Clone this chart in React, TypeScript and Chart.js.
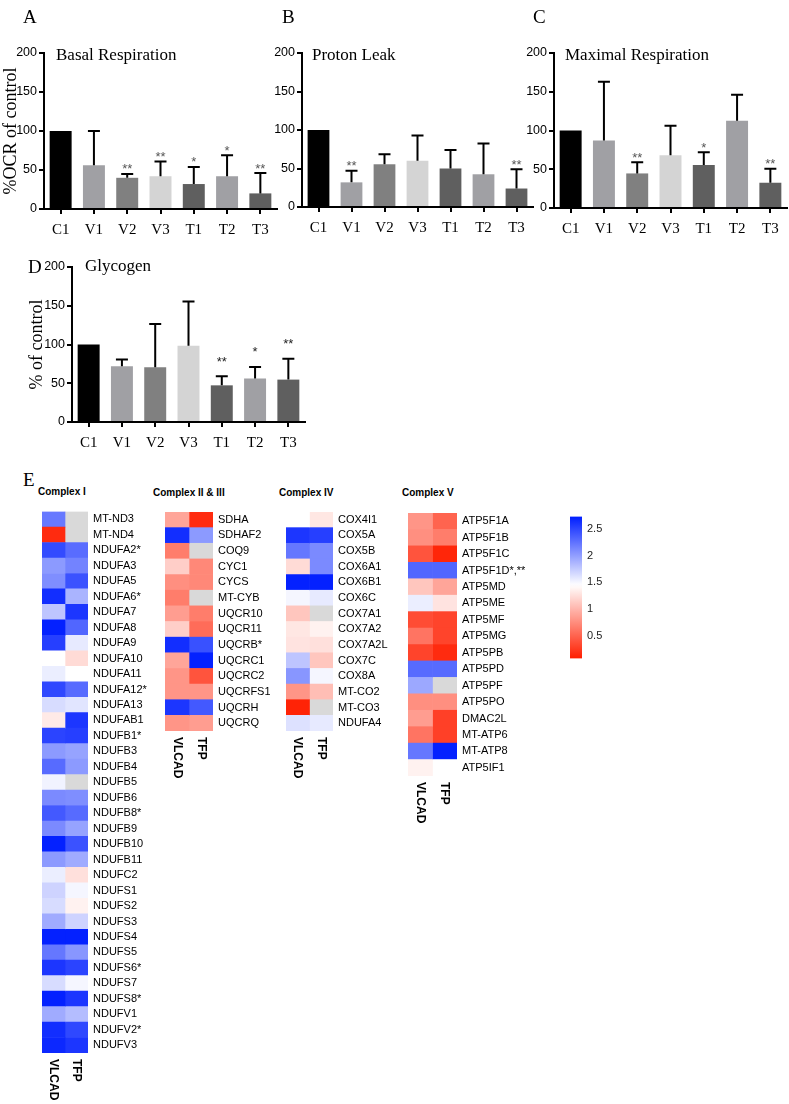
import React, { useEffect, useRef } from 'react';
import { Chart, registerables } from 'chart.js';

Chart.register(...registerables);

const SERIF = '"Liberation Serif", "Times New Roman", Times, serif';
const SANS = '"Liberation Sans", Arial, Helvetica, sans-serif';

// ---------- bar chart data ----------
const groups = ['C1', 'V1', 'V2', 'V3', 'T1', 'T2', 'T3'];
const barColors = ['#000000', '#a0a0a4', '#808080', '#d4d4d4', '#5f5f5f', '#a0a0a4', '#5f5f5f'];

const basalMean = [100, 56, 40, 42, 32, 42, 20];
const basalErr = [0, 44, 5, 19, 22, 27, 26];
const basalSig = ['', '', '**', '**', '*', '*', '**'];

const protonMean = [100, 32, 55.5, 60, 50, 42.5, 24];
const protonErr = [0, 15, 13, 33, 24, 40, 25];
const protonSig = ['', '**', '', '', '', '', '**'];

const maxMean = [100, 87, 44.6, 68, 55.5, 112.6, 32.6];
const maxErr = [0, 76, 14.5, 38, 16.5, 33.5, 18];
const maxSig = ['', '', '**', '', '*', '', '**'];

const glyMean = [100, 72, 70.5, 98.5, 47.3, 56, 54.7];
const glyErr = [0, 8.5, 56, 57, 11.7, 15, 27];
const glySig = ['', '', '', '', '**', '*', '**'];

const yTicks = [0, 50, 100, 150, 200];

// ---------- heatmap data ----------
const columns = ['VLCAD', 'TFP'];

const c1Genes = ['MT-ND3', 'MT-ND4', 'NDUFA2*', 'NDUFA3', 'NDUFA5', 'NDUFA6*', 'NDUFA7', 'NDUFA8', 'NDUFA9', 'NDUFA10', 'NDUFA11', 'NDUFA12*', 'NDUFA13', 'NDUFAB1', 'NDUFB1*', 'NDUFB3', 'NDUFB4', 'NDUFB5', 'NDUFB6', 'NDUFB8*', 'NDUFB9', 'NDUFB10', 'NDUFB11', 'NDUFC2', 'NDUFS1', 'NDUFS2', 'NDUFS3', 'NDUFS4', 'NDUFS5', 'NDUFS6*', 'NDUFS7', 'NDUFS8*', 'NDUFV1', 'NDUFV2*', 'NDUFV3'];
const c1Vlcad = [2.22, 0.15, 2.48, 2.03, 2.1, 2.65, 1.78, 2.72, 2.55, 1.45, 1.55, 2.5, 1.65, 1.32, 2.52, 2.03, 2.3, 1.52, 2.12, 2.4, 2.12, 2.72, 2.03, 1.55, 1.7, 1.65, 1.93, 2.72, 2.23, 2.6, 1.65, 2.72, 1.93, 2.65, 2.68];
const c1Tfp = [null, null, 2.29, 2.16, 2.44, 1.88, 2.6, 2.33, 1.57, 1.23, 1.45, 2.3, 1.6, 2.6, 2.55, 1.98, 2.03, null, 2.1, 2.3, 1.98, 2.44, 1.93, 1.26, 1.5, 1.37, 1.7, 2.72, 2.05, 2.52, 1.5, 2.6, 1.83, 2.5, 2.6];

const c23Genes = ['SDHA', 'SDHAF2', 'COQ9', 'CYC1', 'CYCS', 'MT-CYB', 'UQCR10', 'UQCR11', 'UQCRB*', 'UQCRC1', 'UQCRC2', 'UQCRFS1', 'UQCRH', 'UQCRQ'];
const c23Vlcad = [0.9, 2.65, 0.65, 1.15, 0.76, 0.65, 0.85, 1.15, 2.65, 0.9, 0.8, 0.8, 2.6, 0.8];
const c23Tfp = [0.15, 2.03, null, 0.72, 0.72, null, 0.65, 0.55, 2.45, 2.72, 0.4, 0.8, 2.4, 0.85];

const c4Genes = ['COX4I1', 'COX5A', 'COX5B', 'COX6A1', 'COX6B1', 'COX6C', 'COX7A1', 'COX7A2', 'COX7A2L', 'COX7C', 'COX8A', 'MT-CO2', 'MT-CO3', 'NDUFA4'];
const c4Vlcad = [1.45, 2.6, 2.23, 1.23, 2.72, 1.5, 1.1, 1.3, 1.28, 1.78, 2.05, 0.8, 0.1, 1.62];
const c4Tfp = [1.3, 2.55, 2.12, 2.12, 2.72, 1.57, null, 1.37, 1.26, 1.1, 1.5, 1.05, null, 1.57];

const c5Genes = ['ATP5F1A', 'ATP5F1B', 'ATP5F1C', 'ATP5F1D*,**', 'ATP5MD', 'ATP5ME', 'ATP5MF', 'ATP5MG', 'ATP5PB', 'ATP5PD', 'ATP5PF', 'ATP5PO', 'DMAC2L', 'MT-ATP6', 'MT-ATP8', 'ATP5IF1'];
const c5Vlcad = [0.8, 0.76, 0.4, 2.33, 1.1, 1.55, 0.35, 0.6, 0.3, 2.3, 1.95, 0.76, 0.85, 0.6, 2.23, 1.37];
const c5Tfp = [0.5, 0.65, 0.12, 2.33, 0.9, 1.28, 0.3, 0.3, 0.15, 2.3, null, 0.76, 0.28, 0.28, 2.72, 1.45];

const scaleMin = 0.07;
const scaleMid = 1.45;
const scaleMax = 2.74;
const colorbarTicks = [0.5, 1, 1.5, 2, 2.5];

const RED = [255, 30, 0];
const BLUE = [0, 30, 255];
const MISSING = '#d9d9d9';

function colorFor(v) {
  if (v === null || v === undefined) return MISSING;
  let c;
  if (v <= scaleMid) {
    const t = Math.max(0, Math.min(1, (v - scaleMin) / (scaleMid - scaleMin)));
    c = RED.map((r) => Math.round(r + (255 - r) * t));
  } else {
    const s = Math.max(0, Math.min(1, (v - scaleMid) / (scaleMax - scaleMid)));
    c = BLUE.map((b) => Math.round(255 + (b - 255) * s));
  }
  return `rgb(${c[0]},${c[1]},${c[2]})`;
}

// ---------- chart factories ----------
function makeBar(p) {
  const decor = {
    id: 'decor',
    afterDatasetsDraw(chart) {
      const { ctx, chartArea, scales } = chart;
      const y = scales.y;
      const meta = chart.getDatasetMeta(0);
      ctx.save();
      ctx.strokeStyle = '#000';
      ctx.lineWidth = 2;
      p.mean.forEach((m, i) => {
        const e = p.err[i];
        const cx = meta.data[i].x;
        const yTop = y.getPixelForValue(m + e);
        if (e > 0) {
          ctx.beginPath();
          ctx.moveTo(cx, y.getPixelForValue(m));
          ctx.lineTo(cx, yTop);
          ctx.moveTo(cx - 6, yTop);
          ctx.lineTo(cx + 6, yTop);
          ctx.stroke();
        }
        if (p.sig[i]) {
          ctx.fillStyle = p.starColor;
          ctx.font = `13px ${SANS}`;
          ctx.textAlign = 'center';
          ctx.textBaseline = 'alphabetic';
          ctx.fillText(p.sig[i], cx, yTop - p.starGap + 7.5);
        }
      });
      ctx.fillStyle = '#000';
      ctx.font = `17px ${SERIF}`;
      ctx.textAlign = 'left';
      ctx.textBaseline = 'alphabetic';
      ctx.fillText(p.title, chartArea.left + p.titleDx, chartArea.top + p.titleDy);
      ctx.restore();
    },
  };
  return {
    type: 'bar',
    data: {
      labels: groups,
      datasets: [
        {
          data: p.mean,
          backgroundColor: barColors,
          borderWidth: 0,
          barPercentage: 0.66,
          categoryPercentage: 1,
        },
      ],
    },
    options: {
      animation: false,
      responsive: false,
      layout: { padding: p.padding },
      plugins: { legend: { display: false }, tooltip: { enabled: false }, title: { display: false } },
      scales: {
        x: {
          grid: { display: true, drawOnChartArea: false, drawTicks: true, tickLength: 5, color: '#000', lineWidth: 2, offset: false },
          border: { display: true, color: '#000', width: 2 },
          ticks: { color: '#000', font: { family: SERIF, size: 15 }, padding: 7, autoSkip: false, maxRotation: 0 },
          afterFit: (s) => {
            s.height = p.xHeight;
          },
        },
        y: {
          min: 0,
          max: 200,
          afterBuildTicks: (s) => {
            s.ticks = yTicks.map((v) => ({ value: v }));
          },
          grid: { display: true, drawOnChartArea: false, drawTicks: true, tickLength: 5, color: '#000', lineWidth: 2 },
          border: { display: true, color: '#000', width: 2 },
          ticks: { color: '#000', font: { family: SANS, size: 12.5 }, padding: 2 },
          title: p.yTitle
            ? { display: true, text: p.yTitle, color: '#000', font: { family: SERIF, size: 18 }, padding: { top: 0, bottom: 0 } }
            : { display: false },
          afterFit: (s) => {
            s.width = p.yWidth;
          },
        },
      },
    },
    plugins: [decor],
  };
}

function makeHeat(genes, vlcad, tfp, p) {
  const values = [vlcad, tfp];
  const colLabels = {
    id: 'colLabels',
    afterDraw(chart) {
      const { ctx, chartArea, scales } = chart;
      ctx.save();
      ctx.fillStyle = '#000';
      ctx.font = `bold 12px ${SANS}`;
      ctx.textAlign = 'left';
      ctx.textBaseline = 'middle';
      columns.forEach((c, ci) => {
        const x = scales.x.getPixelForValue(ci + 0.5);
        ctx.save();
        ctx.translate(x, chartArea.bottom + 6);
        ctx.rotate(Math.PI / 2);
        ctx.fillText(c, 0, 0);
        ctx.restore();
      });
      ctx.restore();
    },
  };
  return {
    type: 'bar',
    data: {
      labels: genes,
      datasets: columns.map((c, ci) => ({
        label: c,
        data: genes.map(() => [ci, ci + 1]),
        backgroundColor: values[ci].map(colorFor),
        borderWidth: 0,
        grouped: false,
        barPercentage: 1,
        categoryPercentage: 1,
      })),
    },
    options: {
      indexAxis: 'y',
      animation: false,
      responsive: false,
      layout: { padding: p.padding },
      plugins: { legend: { display: false }, tooltip: { enabled: false } },
      scales: {
        x: { type: 'linear', min: 0, max: columns.length, display: false },
        y: {
          position: 'right',
          grid: { display: false, drawTicks: false },
          border: { display: false },
          ticks: { color: '#000', font: { family: SANS, size: 11 }, padding: 5, autoSkip: false },
          afterFit: (s) => {
            s.width = p.axisWidth;
          },
        },
      },
    },
    plugins: [colLabels],
  };
}

function makeColorbar() {
  return {
    type: 'bar',
    data: {
      labels: [''],
      datasets: [
        {
          data: [[scaleMin, scaleMax]],
          borderWidth: 0,
          barPercentage: 1,
          categoryPercentage: 1,
          backgroundColor: (c) => {
            const chart = c.chart;
            const y = chart.scales.y;
            if (!chart.chartArea || !y) return MISSING;
            const y0 = y.getPixelForValue(scaleMin);
            const y1 = y.getPixelForValue(scaleMax);
            const g = chart.ctx.createLinearGradient(0, y0, 0, y1);
            const n = 40;
            for (let i = 0; i <= n; i++) {
              const v = scaleMin + ((scaleMax - scaleMin) * i) / n;
              g.addColorStop(i / n, colorFor(v));
            }
            return g;
          },
        },
      ],
    },
    options: {
      animation: false,
      responsive: false,
      layout: { padding: { left: 15, top: 10, bottom: 10, right: 0 } },
      plugins: { legend: { display: false }, tooltip: { enabled: false } },
      scales: {
        x: { display: false },
        y: {
          position: 'right',
          min: scaleMin,
          max: scaleMax,
          afterBuildTicks: (s) => {
            s.ticks = colorbarTicks.map((v) => ({ value: v }));
          },
          grid: { display: false, drawTicks: false },
          border: { display: false },
          ticks: { color: '#222', font: { family: SANS, size: 11 }, padding: 5, callback: (v) => String(v) },
          afterFit: (s) => {
            s.width = 53;
          },
        },
      },
    },
  };
}

function ChartBox({ make, left, top, width, height }) {
  const ref = useRef(null);
  useEffect(() => {
    const chart = new Chart(ref.current, make());
    return () => chart.destroy();
  }, []);
  return (
    <canvas
      ref={ref}
      width={width}
      height={height}
      style={{ position: 'absolute', left, top, width, height, display: 'block' }}
    />
  );
}

function Label({ text, left, top, size, bold, family }) {
  return (
    <div
      style={{
        position: 'absolute',
        left,
        top,
        fontSize: size,
        lineHeight: `${size}px`,
        fontFamily: family,
        fontWeight: bold ? 'bold' : 'normal',
        color: '#000',
        whiteSpace: 'nowrap',
      }}
    >
      {text}
    </div>
  );
}

export default function App() {
  return (
    <div style={{ position: 'absolute', left: 0, top: 0, width: 789, height: 1104, background: '#fff', overflow: 'hidden' }}>
      <ChartBox
        left={0}
        top={0}
        width={282}
        height={245}
        make={() =>
          makeBar({
            mean: basalMean, err: basalErr, sig: basalSig, title: 'Basal Respiration', yTitle: '%OCR of control',
            padding: { left: 0, top: 53, right: 5, bottom: 0 }, yWidth: 44, xHeight: 36,
            titleDx: 12, titleDy: 7, starColor: '#555', starGap: 8,
          })
        }
      />
      <ChartBox
        left={258}
        top={0}
        width={282}
        height={245}
        make={() =>
          makeBar({
            mean: protonMean, err: protonErr, sig: protonSig, title: 'Proton Leak',
            padding: { left: 0, top: 53, right: 7, bottom: 0 }, yWidth: 44, xHeight: 38,
            titleDx: 10, titleDy: 7, starColor: '#555', starGap: 8,
          })
        }
      />
      <ChartBox
        left={510}
        top={0}
        width={279}
        height={245}
        make={() =>
          makeBar({
            mean: maxMean, err: maxErr, sig: maxSig, title: 'Maximal Respiration',
            padding: { left: 0, top: 53, right: 2, bottom: 0 }, yWidth: 44, xHeight: 37,
            titleDx: 11, titleDy: 7, starColor: '#555', starGap: 8,
          })
        }
      />
      <ChartBox
        left={0}
        top={240}
        width={312}
        height={215}
        make={() =>
          makeBar({
            mean: glyMean, err: glyErr, sig: glySig, title: 'Glycogen', yTitle: '% of control',
            padding: { left: 26, top: 27, right: 7, bottom: 0 }, yWidth: 46, xHeight: 33,
            titleDx: 13, titleDy: 4, starColor: '#222', starGap: 18,
          })
        }
      />

      <ChartBox
        left={30}
        top={500}
        width={125}
        height={604}
        make={() => makeHeat(c1Genes, c1Vlcad, c1Tfp, { padding: { left: 12, top: 10, right: 0, bottom: 51 }, axisWidth: 67 })}
      />
      <ChartBox
        left={150}
        top={500}
        width={120}
        height={280}
        make={() => makeHeat(c23Genes, c23Vlcad, c23Tfp, { padding: { left: 15, top: 12, right: 0, bottom: 49 }, axisWidth: 57 })}
      />
      <ChartBox
        left={270}
        top={500}
        width={125}
        height={280}
        make={() => makeHeat(c4Genes, c4Vlcad, c4Tfp, { padding: { left: 16, top: 12, right: 0, bottom: 49 }, axisWidth: 62 })}
      />
      <ChartBox
        left={395}
        top={500}
        width={160}
        height={330}
        make={() => makeHeat(c5Genes, c5Vlcad, c5Tfp, { padding: { left: 13, top: 13, right: 0, bottom: 54 }, axisWidth: 98 })}
      />
      <ChartBox left={555} top={505} width={80} height={165} make={makeColorbar} />

      <Label text="A" left={23} top={7} size={19} family={SERIF} />
      <Label text="B" left={282} top={7} size={19} family={SERIF} />
      <Label text="C" left={533} top={7} size={19} family={SERIF} />
      <Label text="D" left={28} top={257} size={19} family={SERIF} />
      <Label text="E" left={23} top={470} size={19} family={SERIF} />

      <Label text="Complex I" left={38} top={487} size={10} bold family={SANS} />
      <Label text="Complex II & III" left={153} top={488} size={10} bold family={SANS} />
      <Label text="Complex IV" left={279} top={488} size={10} bold family={SANS} />
      <Label text="Complex V" left={402} top={488} size={10} bold family={SANS} />
    </div>
  );
}
